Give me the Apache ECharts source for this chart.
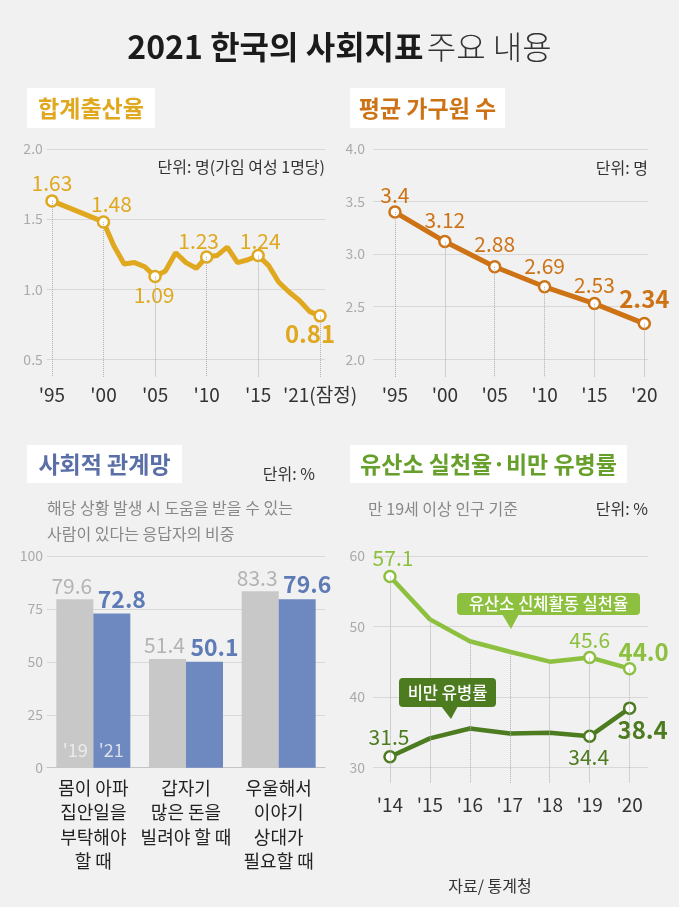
<!DOCTYPE html>
<html><head><meta charset="utf-8">
<script src="https://cdn.jsdelivr.net/npm/echarts@6/dist/echarts.min.js"></script>
<style>html,body{margin:0;padding:0;background:#f1f1f1}#c{width:679px;height:907px}</style>
</head><body><div id="c"></div>
<script>
const FONT = '"Noto Sans CJK KR", "Noto Sans", sans-serif';

// ---- Data ----
const tfrYears = [1995, 2000, 2001, 2002, 2003, 2004, 2005, 2006, 2007, 2008, 2009, 2010, 2011, 2012, 2013, 2014, 2015, 2016, 2017, 2018, 2019, 2020, 2021];
const tfrValues = [1.63, 1.48, 1.31, 1.18, 1.19, 1.16, 1.09, 1.13, 1.26, 1.19, 1.15, 1.23, 1.24, 1.30, 1.19, 1.21, 1.24, 1.17, 1.05, 0.98, 0.92, 0.84, 0.81];
const tfrMarkedYears = [1995, 2000, 2005, 2010, 2015, 2021];
const tfrTickLabels = ["'95", "'00", "'05", "'10", "'15", "'21(잠정)"];
const tfrYTicks = [0.5, 1.0, 1.5, 2.0];

const hhYears = [1995, 2000, 2005, 2010, 2015, 2020];
const hhValues = [3.4, 3.12, 2.88, 2.69, 2.53, 2.34];
const hhTickLabels = ["'95", "'00", "'05", "'10", "'15", "'20"];
const hhYTicks = [2.0, 2.5, 3.0, 3.5, 4.0];

const socialCategories = ['몸이 아파\n집안일을\n부탁해야\n할 때', '갑자기\n많은 돈을\n빌려야 할 때', '우울해서\n이야기\n상대가\n필요할 때'];
const social2019 = [79.6, 51.4, 83.3];
const social2021 = [72.8, 50.1, 79.6];
const socialSeriesNames = ["'19", "'21"];

const healthYears = [2014, 2015, 2016, 2017, 2018, 2019, 2020];
const aerobicRate = [57.1, 51.0, 47.9, 46.4, 45.0, 45.6, 44.0];
const obesityRate = [31.5, 34.1, 35.5, 34.8, 34.9, 34.4, 38.4];
const healthMarkedYears = [2014, 2019, 2020];
const healthTickLabels = ["'14", "'15", "'16", "'17", "'18", "'19", "'20"];
const healthYTicks = [30, 40, 50, 60];

// ---- Styles / layout ----
const C_GOLD = '#DFA81E', C_ORANGE = '#CD7316', C_GRAYBAR = '#C8C8C8', C_BLUE = '#6E89C0',
      C_LGREEN = '#8DC03E', C_DGREEN = '#4D7B1F';
const tfrLabelPos = {1995: [0, -18], 2000: [8, -18], 2005: [-1, 18], 2010: [-8, -16], 2015: [2, -15], 2021: [-10, 18]};
const hhLabelPos = {1995: [0, -17], 2000: [0, -22], 2005: [0, -23], 2010: [0, -21], 2015: [0, -19], 2020: [0, -25]};
const aeroLabelPos = {2014: [3, -18], 2019: [0, -17], 2020: [14, -17]};
const obeLabelPos = {2014: [-1, -20], 2019: [-1, 21], 2020: [13, 22]};

const RANGE1 = {xmin: 1994.5, xmax: 2021.5, ymin: 0.374, ymax: 2.0};
const RANGE2 = {xmin: 1992.8, xmax: 2020.37, ymin: 1.832, ymax: 4.0};
const RANGE4 = {xmin: 2013.575, xmax: 2020.46, ymin: 27.77, ymax: 60};

function markerStyle(color) {
  return {color: '#fff', borderColor: color, borderWidth: 2.5};
}
function pointData(years, values, marked, pos, color, fmt, lastBold) {
  return years.map((y, i) => {
    const isM = marked.indexOf(y) >= 0;
    const bold = lastBold && i === years.length - 1;
    return {
      value: [y, values[i]],
      symbol: isM ? 'circle' : 'none',
      label: {
        show: isM, position: 'inside', offset: isM ? pos[y] : [0, 0],
        formatter: fmt(values[i]), color: color, fontFamily: FONT,
        fontSize: bold ? 24 : 21, fontWeight: bold ? 'bold' : 'normal'
      }
    };
  });
}
function dropLines(years, values, marked, ymin) {
  const out = [];
  years.forEach((y, i) => {
    if (marked.indexOf(y) >= 0) out.push([{coord: [y, values[i]]}, {coord: [y, ymin]}]);
  });
  return out;
}
function valueX(gi, r, ticks, labels, margin) {
  return {
    type: 'value', gridIndex: gi, min: r.xmin, max: r.xmax,
    axisLine: {show: false}, axisTick: {show: false, customValues: ticks},
    splitLine: {show: false},
    axisLabel: {customValues: ticks, margin: margin, color: '#333', fontSize: 19, fontFamily: FONT,
      formatter: v => { const k = ticks.indexOf(Math.round(v)); return k >= 0 ? labels[k] : ''; }}
  };
}
function valueY(gi, r, ticks, margin, dec) {
  return {
    type: 'value', gridIndex: gi, min: r.ymin, max: r.ymax,
    axisLine: {show: false}, axisTick: {show: false, customValues: ticks},
    splitLine: {show: true, lineStyle: {color: '#d8d8d8', width: 1}},
    axisLabel: {customValues: ticks, margin: margin, color: '#aaa', fontSize: 14, fontFamily: FONT,
      formatter: v => v.toFixed(dec)}
  };
}
const dropStyle = {type: 'dotted', color: '#b0b0b0', width: 1};

const chart = echarts.init(document.getElementById('c'));
const option = {
  backgroundColor: '#f1f1f1',
  animation: false,
  textStyle: {fontFamily: FONT},
  grid: [
    {left: 46.8, top: 149, width: 278.4, height: 228},
    {left: 373, top: 149, width: 275, height: 228},
    {left: 47, top: 556, width: 278, height: 211.7},
    {left: 373, top: 556, width: 275, height: 227}
  ],
  xAxis: [
    valueX(0, RANGE1, tfrMarkedYears, tfrTickLabels, 8.5),
    valueX(1, RANGE2, hhYears, hhTickLabels, 8.5),
    {
      type: 'category', gridIndex: 2, data: socialCategories,
      axisLine: {show: true, lineStyle: {color: '#c4c4c4'}}, axisTick: {show: false},
      axisLabel: {margin: 8, color: '#222', fontSize: 18, lineHeight: 24.5, fontFamily: FONT, interval: 0}
    },
    valueX(3, RANGE4, healthYears, healthTickLabels, 12.5)
  ],
  yAxis: [
    valueY(0, RANGE1, tfrYTicks, 4, 1),
    valueY(1, RANGE2, hhYTicks, 8, 1),
    {
      type: 'value', gridIndex: 2, min: 0, max: 100, interval: 25,
      axisLine: {show: false}, axisTick: {show: false},
      splitLine: {lineStyle: {color: '#d8d8d8'}},
      axisLabel: {margin: 4, color: '#aaa', fontSize: 14, fontFamily: FONT}
    },
    valueY(3, RANGE4, healthYTicks, 8, 0)
  ],
  series: [
    {
      type: 'line', xAxisIndex: 0, yAxisIndex: 0, showAllSymbol: true, symbolSize: 11,
      lineStyle: {color: C_GOLD, width: 5}, itemStyle: markerStyle(C_GOLD), z: 3,
      data: pointData(tfrYears, tfrValues, tfrMarkedYears, tfrLabelPos, C_GOLD, v => v.toFixed(2), true),
      markLine: {silent: true, symbol: 'none', label: {show: false}, lineStyle: dropStyle,
        data: dropLines(tfrYears, tfrValues, tfrMarkedYears, RANGE1.ymin)}
    },
    {
      type: 'line', xAxisIndex: 1, yAxisIndex: 1, showAllSymbol: true, symbolSize: 11,
      lineStyle: {color: C_ORANGE, width: 5}, itemStyle: markerStyle(C_ORANGE), z: 3,
      data: pointData(hhYears, hhValues, hhYears, hhLabelPos, C_ORANGE, v => String(v), true),
      markLine: {silent: true, symbol: 'none', label: {show: false}, lineStyle: dropStyle,
        data: dropLines(hhYears, hhValues, hhYears, RANGE2.ymin)}
    },
    {
      type: 'bar', name: socialSeriesNames[0], xAxisIndex: 2, yAxisIndex: 2, barWidth: 37, barGap: '0%',
      itemStyle: {color: C_GRAYBAR}, data: social2019,
      label: {show: true, position: 'top', distance: 3, offset: [-3, 0], color: '#b3b3b3', fontSize: 21, fontFamily: FONT}
    },
    {
      type: 'bar', name: socialSeriesNames[1], xAxisIndex: 2, yAxisIndex: 2, barWidth: 37, barGap: '0%',
      itemStyle: {color: C_BLUE}, data: social2021,
      label: {show: true, position: 'top', distance: 3, offset: [10, 0], color: '#5F7BB6', fontSize: 23, fontWeight: 'bold', fontFamily: FONT}
    },
    {
      // year tags inside the first pair of bars
      type: 'scatter', xAxisIndex: 2, yAxisIndex: 2, symbolSize: 0, silent: true, z: 10,
      data: [
        {value: [socialCategories[0], 0], label: {offset: [-18, -18], formatter: socialSeriesNames[0]}},
        {value: [socialCategories[0], 0], label: {offset: [18, -18], formatter: socialSeriesNames[1]}}
      ],
      label: {show: true, position: 'inside', color: '#f4f4f4', fontSize: 18, fontFamily: FONT}
    },
    {
      type: 'line', xAxisIndex: 3, yAxisIndex: 3, showAllSymbol: true, symbolSize: 11,
      lineStyle: {color: C_LGREEN, width: 4.5}, itemStyle: markerStyle(C_LGREEN), z: 3,
      data: pointData(healthYears, aerobicRate, healthMarkedYears, aeroLabelPos, C_LGREEN, v => v.toFixed(1), true),
      markLine: {silent: true, symbol: 'none', label: {show: false}, lineStyle: dropStyle,
        data: dropLines(healthYears, aerobicRate, healthYears, RANGE4.ymin)}
    },
    {
      type: 'line', xAxisIndex: 3, yAxisIndex: 3, showAllSymbol: true, symbolSize: 11,
      lineStyle: {color: C_DGREEN, width: 4.5}, itemStyle: markerStyle(C_DGREEN), z: 4,
      data: pointData(healthYears, obesityRate, healthMarkedYears, obeLabelPos, C_DGREEN, v => v.toFixed(1), true)
    }
  ],
  graphic: [
    {type: 'text', x: 339.5, y: 47, style: {
      text: '{b|2021 한국의 사회지표} {l|주요 내용}', align: 'center', verticalAlign: 'middle',
      rich: {
        b: {fontFamily: FONT, fontSize: 32, fontWeight: 'bold', fill: '#1b1b1b'},
        l: {fontFamily: FONT, fontSize: 32, fontWeight: 300, fill: '#333'}
      }}},
    // section title boxes
    {type: 'rect', shape: {x: 27, y: 88, width: 128, height: 40}, style: {fill: '#fff'}},
    {type: 'text', x: 91, y: 108, style: {text: '합계출산율', align: 'center', verticalAlign: 'middle', fontFamily: FONT, fontSize: 23, fontWeight: 'bold', fill: C_GOLD}},
    {type: 'rect', shape: {x: 350, y: 88, width: 155, height: 40}, style: {fill: '#fff'}},
    {type: 'text', x: 427.5, y: 108, style: {text: '평균 가구원 수', align: 'center', verticalAlign: 'middle', fontFamily: FONT, fontSize: 23, fontWeight: 'bold', fill: C_ORANGE}},
    {type: 'rect', shape: {x: 27, y: 445, width: 155, height: 38}, style: {fill: '#fff'}},
    {type: 'text', x: 104.5, y: 464, style: {text: '사회적 관계망', align: 'center', verticalAlign: 'middle', fontFamily: FONT, fontSize: 23, fontWeight: 'bold', fill: '#5A6FA7'}},
    {type: 'rect', shape: {x: 350, y: 445, width: 277, height: 38}, style: {fill: '#fff'}},
    {type: 'text', x: 488.5, y: 464, style: {text: '유산소 실천율·비만 유병률', align: 'center', verticalAlign: 'middle', fontFamily: FONT, fontSize: 23, fontWeight: 'bold', fill: '#66A02B'}},
    // units & notes
    {type: 'text', x: 325, y: 167, style: {text: '단위: 명(가임 여성 1명당)', align: 'right', verticalAlign: 'middle', fontFamily: FONT, fontSize: 16, fill: '#333'}},
    {type: 'text', x: 648, y: 168, style: {text: '단위: 명', align: 'right', verticalAlign: 'middle', fontFamily: FONT, fontSize: 16, fill: '#333'}},
    {type: 'text', x: 315, y: 474, style: {text: '단위: %', align: 'right', verticalAlign: 'middle', fontFamily: FONT, fontSize: 16, fill: '#333'}},
    {type: 'text', x: 47, y: 508, style: {text: '해당 상황 발생 시 도움을 받을 수 있는', align: 'left', verticalAlign: 'middle', fontFamily: FONT, fontSize: 16, fill: '#888'}},
    {type: 'text', x: 47, y: 534, style: {text: '사람이 있다는 응답자의 비중', align: 'left', verticalAlign: 'middle', fontFamily: FONT, fontSize: 16, fill: '#888'}},
    {type: 'text', x: 368, y: 509, style: {text: '만 19세 이상 인구 기준', align: 'left', verticalAlign: 'middle', fontFamily: FONT, fontSize: 16, fill: '#888'}},
    {type: 'text', x: 648, y: 509, style: {text: '단위: %', align: 'right', verticalAlign: 'middle', fontFamily: FONT, fontSize: 16, fill: '#333'}},
    {type: 'text', x: 490, y: 886, style: {text: '자료/ 통계청', align: 'center', verticalAlign: 'middle', fontFamily: FONT, fontSize: 16, fill: '#333'}},
    // callouts
    {type: 'rect', shape: {x: 457, y: 593, width: 183, height: 22, r: 4}, style: {fill: C_LGREEN}, z: 10},
    {type: 'polygon', shape: {points: [[502, 614], [519, 614], [511, 629]]}, style: {fill: C_LGREEN}, z: 10},
    {type: 'text', x: 548.5, y: 604, z: 11, style: {text: '유산소 신체활동 실천율', align: 'center', verticalAlign: 'middle', fontFamily: FONT, fontSize: 16.5, fontWeight: 500, fill: '#fff'}},
    {type: 'rect', shape: {x: 399, y: 678, width: 97, height: 29, r: 4}, style: {fill: C_DGREEN}, z: 10},
    {type: 'polygon', shape: {points: [[441, 706], [458, 706], [451, 719]]}, style: {fill: C_DGREEN}, z: 10},
    {type: 'text', x: 447.5, y: 692.5, z: 11, style: {text: '비만 유병률', align: 'center', verticalAlign: 'middle', fontFamily: FONT, fontSize: 16.5, fontWeight: 500, fill: '#fff'}}
  ]
};
chart.setOption(option);
</script>
</body></html>
